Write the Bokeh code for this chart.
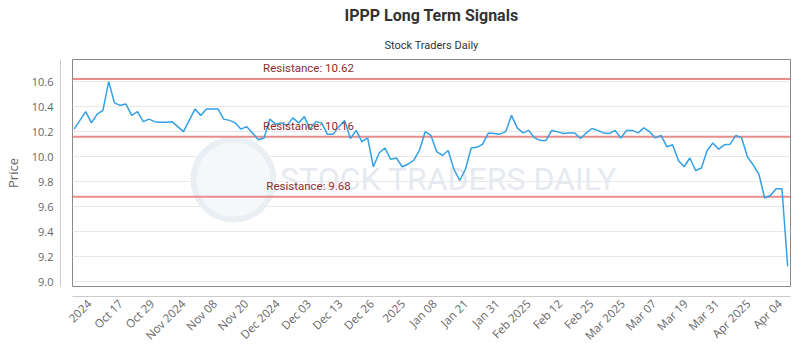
import numpy as np
from bokeh.plotting import figure
from bokeh.models import (Range1d, FixedTicker, PrintfTickFormatter, Span, Label,
                          BoxAnnotation, LinearAxis, Title)
from bokeh.embed import file_html
from bokeh.resources import INLINE

# ---- data ----
prices = [
    10.22, 10.29, 10.36, 10.27, 10.34, 10.37, 10.60, 10.43, 10.41, 10.42,
    10.33, 10.36, 10.28, 10.30, 10.28, 10.275, 10.275, 10.28, 10.24, 10.20,
    10.29, 10.38, 10.33, 10.38, 10.38, 10.38, 10.30, 10.29, 10.27, 10.22,
    10.24, 10.19, 10.135, 10.15, 10.30, 10.26, 10.27, 10.25, 10.31, 10.27,
    10.32, 10.22,
    10.28, 10.27, 10.18, 10.18, 10.24, 10.29, 10.145, 10.21, 10.12, 10.15, 9.92,
    10.03, 10.07, 9.98, 9.99, 9.92, 9.94, 9.97, 10.05, 10.20, 10.17,
    10.04, 10.01, 10.05, 9.90, 9.81, 9.90, 10.07, 10.075, 10.10, 10.19,
    10.185, 10.18, 10.20, 10.33, 10.23, 10.19, 10.21, 10.15, 10.13, 10.13, 10.21,
    10.20, 10.185, 10.19, 10.19, 10.145, 10.19, 10.225, 10.21, 10.19, 10.185,
    10.21, 10.15, 10.21, 10.21, 10.19, 10.23, 10.20, 10.15, 10.17, 10.08,
    10.095, 9.97, 9.92, 9.99, 9.89, 9.91, 10.05, 10.11, 10.06, 10.095,
    10.10, 10.17, 10.15, 10.00, 9.935, 9.86, 9.67, 9.69, 9.745, 9.745, 9.125,
]
tick_labels = ["2024", "Oct 17", "Oct 29", "Nov 2024", "Nov 08", "Nov 20",
               "Dec 2024", "Dec 03", "Dec 13", "Dec 26", "2025", "Jan 08",
               "Jan 21", "Jan 31", "Feb 2025", "Feb 12", "Feb 25", "Mar 2025",
               "Mar 07", "Mar 19", "Mar 31", "Apr 2025", "Apr 04"]
y_ticks = [9.0, 9.2, 9.4, 9.6, 9.8, 10.0, 10.2, 10.4, 10.6]
resistance = [10.62, 10.16, 9.68]

x = list(range(len(prices)))

p = figure(width=800, height=350, output_backend="svg", toolbar_location=None,
           x_range=Range1d(-0.29, len(prices) - 0.51),
           y_range=Range1d(8.964, 10.776),
           min_border_left=70, min_border_right=10,
           min_border_top=58, min_border_bottom=63,
           x_axis_location=None, y_axis_location=None)
p.background_fill_color = "white"
p.border_fill_color = "white"
p.outline_line_color = "#888888"
p.outline_line_width = 1

# titles
p.title.text = "IPPP Long Term Signals"
p.title.align = "center"
p.title.text_font = "Roboto"
p.title.text_font_size = "16px"
p.title.text_font_style = "bold"
p.title.text_color = "#333333"
p.title.standoff = 7
p.add_layout(Title(text="Stock Traders Daily", align="center", text_font="Roboto",
                   text_font_size="11px", text_font_style="normal",
                   text_color="#333333", standoff=16), "above")

# spacer axes so that the light axis lines sit off the plot border
def spacer(size):
    return LinearAxis(ticker=FixedTicker(ticks=[]), axis_line_color=None,
                      major_tick_line_color=None, minor_tick_line_color=None,
                      major_tick_out=0, major_label_standoff=0,
                      major_label_text_font_size="0px",
                      axis_label=" ", axis_label_standoff=0,
                      axis_label_text_font_size=f"{size}px")

tick_pos = [round(float(v), 3) for v in np.linspace(2.6, len(prices) - 2.4, len(tick_labels))]
xaxis = LinearAxis(ticker=FixedTicker(ticks=tick_pos),
                   major_label_overrides={t: lab for t, lab in zip(tick_pos, tick_labels)},
                   major_label_orientation=np.pi / 4,
                   major_label_text_font="Open Sans",
                   major_label_text_font_size="11.5px",
                   major_label_text_color="#666666",
                   major_label_standoff=5,
                   axis_line_color="#cccccc",
                   major_tick_line_color=None, minor_tick_line_color=None,
                   major_tick_out=0, major_tick_in=0)
p.add_layout(spacer(7), "below")
p.add_layout(xaxis, "below")

yaxis = LinearAxis(ticker=FixedTicker(ticks=y_ticks),
                   formatter=PrintfTickFormatter(format="%.1f"),
                   major_label_text_font="Open Sans",
                   major_label_text_font_size="11px",
                   major_label_text_color="#666666",
                   major_label_standoff=7,
                   axis_line_color="#cccccc",
                   major_tick_line_color=None, minor_tick_line_color=None,
                   major_tick_out=0, major_tick_in=0,
                   axis_label="Price", axis_label_text_font="Open Sans",
                   axis_label_text_font_size="13px",
                   axis_label_text_font_style="normal",
                   axis_label_text_color="#666666",
                   axis_label_standoff=7)
p.add_layout(spacer(8), "left")
p.add_layout(yaxis, "left")

p.xgrid.visible = False
p.ygrid.ticker = FixedTicker(ticks=y_ticks)
p.ygrid.grid_line_color = "#e9e9e9"

# watermark
p.add_layout(BoxAnnotation(left=193, right=273, top=139, bottom=219,
                           left_units="canvas", right_units="canvas",
                           top_units="canvas", bottom_units="canvas",
                           border_radius=40, fill_color="#f5f8fb", fill_alpha=1.0,
                           line_color="#eaeff4", line_alpha=1.0, line_dash="solid",
                           line_width=6, level="underlay"))
p.add_layout(Label(x=448, y=178, x_units="canvas", y_units="canvas",
                   text="STOCK TRADERS DAILY", text_font="Roboto",
                   text_font_size="32px", text_color="#e6eaf0",
                   text_align="center", text_baseline="middle", level="underlay"))

# resistance lines
for lvl in resistance:
    p.add_layout(Span(location=lvl, dimension="width", line_color="#e88c8c",
                      line_width=2, level="underlay"))
    p.add_layout(Label(x=308, y=lvl, x_units="canvas", y_offset=4,
                       text=f"Resistance: {lvl:.2f}", text_font="Roboto",
                       text_font_size="11.5px", text_color="#8f2d2d",
                       text_align="center", text_baseline="bottom"))

p.line(x, prices, line_color="#33a1e6", line_width=1.5)

open("out.html", "w").write(file_html(p, INLINE))
